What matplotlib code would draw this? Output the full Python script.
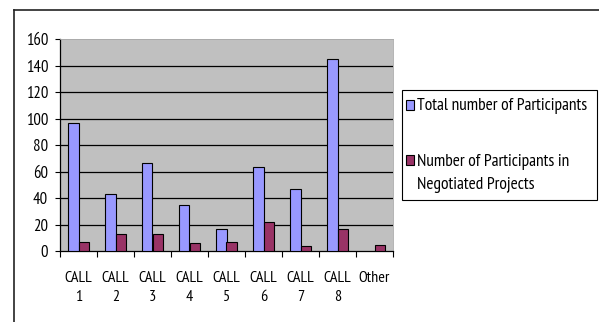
import numpy as np
import matplotlib
matplotlib.use("Agg")
import matplotlib.pyplot as plt
from matplotlib.lines import Line2D
from matplotlib.patches import Rectangle

plt.rcParams['font.family'] = ['PT Sans Narrow', 'Liberation Sans', 'DejaVu Sans']

# Participants per call
categories = ["CALL\n1", "CALL\n2", "CALL\n3", "CALL\n4", "CALL\n5",
              "CALL\n6", "CALL\n7", "CALL\n8", "Other"]
total_participants = [97, 43, 67, 35, 17, 64, 47, 145, np.nan]
negotiated_participants = [7, 13, 13, 6, 7, 22, 4, 17, 5]
series_names = ["Total number of Participants",
                "Number of Participants in",
                "Negotiated Projects"]
y_ticks = [0, 20, 40, 60, 80, 100, 120, 140, 160]

BLUE = "#9999FF"
MAROON = "#993366"
PLOT_BG = "#C0C0C0"

W, H = 599, 322
fig = plt.figure(figsize=(W / 100, H / 100), dpi=100)

def fx(px):
    return px / W

def fy(py):
    return 1 - py / H

# outer chart frame (top and left edges)
fig.add_artist(Line2D([fx(14), fx(599)], [fy(10), fy(10)], color="#222222", lw=1.2))
fig.add_artist(Line2D([fx(14), fx(14)], [fy(10), fy(322)], color="#222222", lw=1.2))

ax = fig.add_axes([fx(60), fy(251.3), fx(333), 212 / H])
ax.set_facecolor(PLOT_BG)

x = np.arange(len(categories))
bw = 0.29
ax.bar(x - 0.145, total_participants, bw, color=BLUE, edgecolor="black", linewidth=0.8, zorder=3)
ax.bar(x + 0.145, negotiated_participants, bw, color=MAROON, edgecolor="black", linewidth=0.8, zorder=3)

ax.set_xlim(-0.5, len(categories) - 0.5)
ax.set_ylim(0, 160)

for v in y_ticks[1:-1]:
    ax.axhline(v, color="black", lw=0.9, zorder=1)

ax.set_yticks(y_ticks)
ax.set_yticklabels([str(v) for v in y_ticks], fontsize=12)
ax.tick_params(axis="y", direction="out", length=3.5, width=0.8, pad=5)

ax.set_xticks(np.arange(-0.5, len(categories)), minor=False)
ax.set_xticklabels([])
ax.tick_params(axis="x", which="major", direction="out", length=4, width=0.8)
ax.set_xticks(x, minor=True)
ax.set_xticklabels(categories, minor=True, fontsize=11.5, linespacing=1.45)
ax.tick_params(axis="x", which="minor", length=0, pad=14)

for side in ("left", "bottom"):
    ax.spines[side].set_color("black")
    ax.spines[side].set_linewidth(0.9)
for side in ("top", "right"):
    ax.spines[side].set_color("#A8A8A8")
    ax.spines[side].set_linewidth(0.6)

# legend box
fig.add_artist(Rectangle((fx(402), fy(200)), fx(195), 110 / H,
                         facecolor="white", edgecolor="black", lw=0.8))
fig.add_artist(Rectangle((fx(406.5), fy(110)), fx(8), 10 / H,
                         facecolor=BLUE, edgecolor="black", lw=0.8))
fig.add_artist(Rectangle((fx(406.5), fy(165)), fx(8), 10 / H,
                         facecolor=MAROON, edgecolor="black", lw=0.8))
fig.text(fx(417), fy(110), series_names[0], fontsize=12.5, va="baseline", ha="left")
fig.text(fx(417), fy(166), series_names[1], fontsize=12.5, va="baseline", ha="left")
fig.text(fx(417), fy(189), series_names[2], fontsize=12.5, va="baseline", ha="left")

fig.savefig("out.png", dpi=100)
